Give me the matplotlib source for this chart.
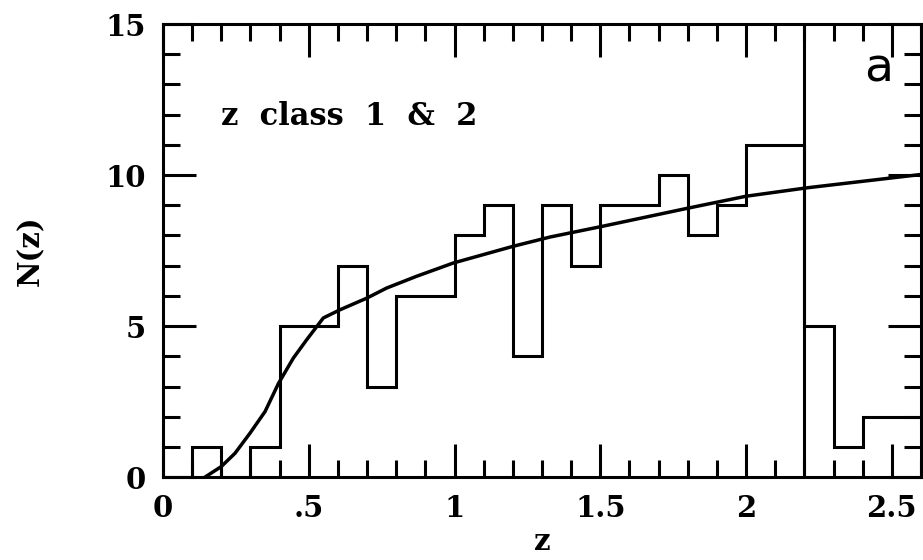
import numpy as np
import matplotlib
matplotlib.use("Agg")
import matplotlib.pyplot as plt
from matplotlib.ticker import MultipleLocator, FixedLocator

# histogram: bin edges every 0.1 in z, counts per bin
bin_edges = np.round(np.arange(0.0, 2.61, 0.1), 2)
counts = [0, 1, 0, 1, 5, 5, 7, 3, 6, 6, 8, 9, 4, 9, 7, 9, 9, 10, 8, 9, 11, 11, 5, 1, 2, 2]

# smooth model curve
curve_z = [0.144, 0.20, 0.247, 0.298, 0.35, 0.396, 0.447, 0.493, 0.55, 0.607,
           0.70, 0.767, 0.87, 0.996, 1.2, 1.328, 1.51, 1.808, 2.0, 2.21, 2.6]
curve_n = [0.0, 0.35, 0.79, 1.45, 2.17, 3.1, 3.94, 4.55, 5.27, 5.54,
           5.93, 6.26, 6.65, 7.09, 7.64, 7.95, 8.31, 8.92, 9.3, 9.58, 10.02]

z_cut = 2.2

x_ticks = [0, 0.5, 1, 1.5, 2, 2.5]
x_ticklabels = ["0", ".5", "1", "1.5", "2", "2.5"]
y_ticks = [0, 5, 10, 15]
y_ticklabels = ["0", "5", "10", "15"]

lw = 2.2
font = "DejaVu Serif"

fig = plt.figure(figsize=(9.23, 5.6), dpi=100)
ax = fig.add_axes([0.1766, 0.148, 0.8212, 0.809])

ax.stairs(counts, bin_edges, color="black", linewidth=lw, baseline=None)
ax.plot(curve_z, curve_n, color="black", linewidth=2.5)
ax.axvline(z_cut, color="black", linewidth=lw)

ax.set_xlim(0, 2.6)
ax.set_ylim(0, 15)

ax.xaxis.set_major_locator(FixedLocator(x_ticks))
ax.set_xticklabels(x_ticklabels)
ax.xaxis.set_minor_locator(MultipleLocator(0.1))
ax.yaxis.set_major_locator(FixedLocator(y_ticks))
ax.set_yticklabels(y_ticklabels)
ax.yaxis.set_minor_locator(MultipleLocator(1))

ax.tick_params(which="both", direction="in", top=True, right=True, width=lw)
ax.tick_params(which="major", length=24, pad=12)
ax.tick_params(which="minor", length=12)
for lab in ax.get_xticklabels() + ax.get_yticklabels():
    lab.set_fontfamily(font)
    lab.set_fontweight("bold")
    lab.set_fontsize(21)
for s in ax.spines.values():
    s.set_linewidth(lw)

ax.set_xlabel("z", fontfamily=font, fontweight="bold", fontsize=21, labelpad=3)
ax.set_ylabel("N(z)", fontfamily=font, fontweight="bold", fontsize=21, labelpad=44)

ax.text(0.2, 11.95, "z  class  1  &  2", fontfamily=font, fontweight="bold",
        fontsize=22, va="center", ha="left")
ax.text(2.505, 13.5, "a", fontfamily="DejaVu Sans", fontsize=34,
        va="center", ha="right")

fig.savefig("out.png", dpi=100)
